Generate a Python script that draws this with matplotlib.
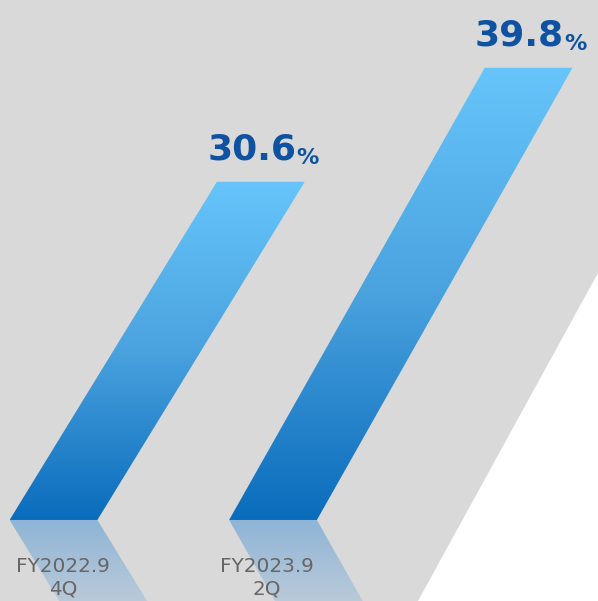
import numpy as np
import matplotlib
matplotlib.use("Agg")
import matplotlib.pyplot as plt
from matplotlib.patches import Polygon
from matplotlib.colors import LinearSegmentedColormap

# ---- data ----
categories = ["FY2022.9\n4Q", "FY2023.9\n2Q"]
values = [30.6, 39.8]
value_labels = ["30.6", "39.8"]

# ---- style / layout ----
BG = "#d9d9d9"
BASE = 3.3            # axis floor where bars start
YLIM = (-3.24, 45.27)
XLIM = (-0.2437, 2.4806)
BAR_W = 0.40
SLANTS = [0.0346, 0.0319]   # x-shift per value unit
LABEL_DX = [0.043, -0.027]
bar_cmap = LinearSegmentedColormap.from_list(
    "bar", ["#0a6cbc", "#4aa2de", "#67c5fb"])
refl_cmap = LinearSegmentedColormap.from_list(
    "refl", ["#b9cad9", "#8fb4d6"])

fig = plt.figure(figsize=(5.98, 6.01), dpi=100, facecolor=BG)
ax = fig.add_axes([0, 0, 1, 1])
ax.set_facecolor(BG)

# white cut-out at the bottom right
ax.add_patch(Polygon([(1, 0.5458), (0.699, 0), (1, 0)], closed=True,
                     transform=ax.transAxes, facecolor="white",
                     edgecolor="none", zorder=0))

grad = np.linspace(0, 1, 256).reshape(-1, 1)

for i, (v, s) in enumerate(zip(values, SLANTS)):
    x0 = i - BAR_W / 2
    h = v - BASE
    shift = s * h
    # main slanted bar
    pts = [(x0, BASE), (x0 + BAR_W, BASE),
           (x0 + BAR_W + shift, v), (x0 + shift, v)]
    poly = Polygon(pts, closed=True, transform=ax.transData,
                   facecolor="none", edgecolor="none")
    im = ax.imshow(grad, cmap=bar_cmap, origin="lower", aspect="auto",
                   extent=(x0, x0 + BAR_W + shift, BASE, v), zorder=2,
                   interpolation="bilinear")
    im.set_clip_path(poly)

    # reflection below the baseline
    d = BASE - YLIM[0]
    rshift = s * d
    rpts = [(x0, BASE), (x0 + BAR_W, BASE),
            (x0 + BAR_W + rshift, YLIM[0]), (x0 + rshift, YLIM[0])]
    rpoly = Polygon(rpts, closed=True, transform=ax.transData,
                    facecolor="none", edgecolor="none")
    rim = ax.imshow(grad, cmap=refl_cmap, origin="lower", aspect="auto",
                    extent=(x0, x0 + BAR_W + rshift, YLIM[0], BASE),
                    zorder=1, interpolation="bilinear")
    rim.set_clip_path(rpoly)

    # value label
    top_c = i + shift
    num = ax.annotate(value_labels[i], xy=(top_c, v), xytext=(-9, 22),
                      textcoords="offset pixels", ha="center", va="baseline",
                      fontsize=26, fontweight="bold", color="#0f52a2",
                      family="DejaVu Sans", zorder=3)
    ax.annotate("%", xy=(1, 0), xycoords=num, xytext=(0, -1),
                textcoords="offset pixels", ha="left", va="bottom",
                fontsize=16, fontweight="bold", color="#0f52a2",
                family="DejaVu Sans", zorder=3)

    # category label
    ax.text(i + LABEL_DX[i], 0.31, categories[i], ha="center", va="top",
            fontsize=14.4, color="#666666", linespacing=1.2,
            family="DejaVu Sans", zorder=3)

ax.set_xlim(*XLIM)
ax.set_ylim(*YLIM)
ax.axis("off")

fig.savefig("out.png", dpi=100, facecolor=BG)
